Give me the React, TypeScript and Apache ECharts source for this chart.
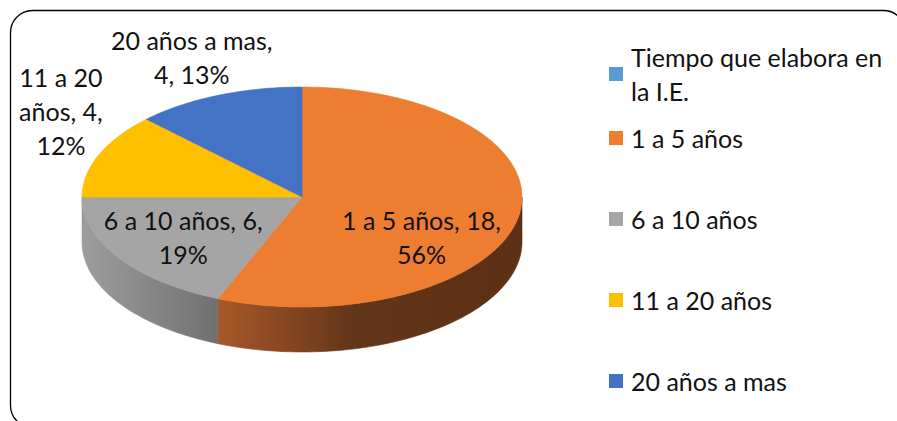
import React, { useEffect, useRef } from "react";
import * as echarts from "echarts";

// ---- data ----
const categories = [
  "Tiempo que elabora en la I.E.",
  "1 a 5 años",
  "6 a 10 años",
  "11 a 20 años",
  "20 años a mas",
];
const values = [0, 18, 6, 4, 4];
const percents = [0, 56, 19, 12, 13];

// ---- styles ----
const FONT = "Lato";
const FONT_SIZE = 25;
const topColors = ["#5B9BD5", "#ED7D31", "#A5A5A5", "#FFC000", "#4472C4"];
const wallStops: Array<Array<[number, string]>> = [
  [[0, "#3F6E98"], [1, "#2F5577"]],
  [[0, "#A85829"], [0.45, "#63351A"], [1, "#5C3015"]],
  [[0, "#9D9D9D"], [1, "#707070"]],
  [[0, "#B38700"], [1, "#8A6800"]],
  [[0, "#30508A"], [1, "#263F6E"]],
];
// label anchor: factor along the mid-angle radius, plus a pixel nudge, and wrap width
const labelLayout = [
  null,
  { k: 0.6, dx: -10, dy: 27, width: 175 },
  { k: 0.6, dx: -9, dy: 3, width: 175 },
  { k: 1.25, dx: 13, dy: -33, width: 105 },
  { k: 1.25, dx: -5, dy: -13, width: 175 },
];

const CX = 302;
const CY = 197;
const RX = 220;
const RY = 110;
const DEPTH = 45;

function pt(theta: number, dy = 0): number[] {
  return [CX + RX * Math.sin(theta), CY - RY * Math.cos(theta) + dy];
}
function arc(a: number, b: number, dy: number): number[][] {
  const n = Math.max(2, Math.ceil((b - a) / (Math.PI / 120)));
  const pts: number[][] = [];
  for (let j = 0; j <= n; j++) pts.push(pt(a + ((b - a) * j) / n, dy));
  return pts;
}

let measureCtx: CanvasRenderingContext2D | null = null;
function wrapWords(text: string, width: number): string {
  if (!measureCtx) measureCtx = document.createElement("canvas").getContext("2d");
  const ctx = measureCtx!;
  ctx.font = `${FONT_SIZE}px ${FONT}`;
  const words = text.split(" ");
  const lines: string[] = [];
  let cur = "";
  for (const w of words) {
    const cand = cur ? cur + " " + w : w;
    if (cur && ctx.measureText(cand).width > width) {
      lines.push(cur);
      cur = w;
    } else cur = cand;
  }
  if (cur) lines.push(cur);
  return lines.join("\n");
}

export default function App() {
  const ref = useRef<HTMLDivElement>(null);
  useEffect(() => {
    if (!ref.current) return;
    const chart = echarts.init(ref.current, undefined, { renderer: "svg" });
    const total = values.reduce((s, v) => s + v, 0);

    const renderItem = (params: any, api: any) => {
      const i = params.dataIndex;
      const v = api.value(0) as number;
      if (!v) return { type: "group", children: [] };
      let before = 0;
      for (let j = 0; j < i; j++) before += values[j];
      const a = (before / total) * Math.PI * 2;
      const b = ((before + v) / total) * Math.PI * 2;
      const children: any[] = [];
      const wa = Math.max(a, Math.PI / 2);
      const wb = Math.min(b, (Math.PI * 3) / 2);
      if (wb > wa) {
        const grad = new echarts.graphic.LinearGradient(
          0, 0, 1, 0,
          wallStops[i].map(([offset, color]) => ({ offset, color }))
        );
        children.push({
          type: "polygon",
          z2: 1,
          shape: { points: [...arc(wa, wb, 0), ...arc(wa, wb, DEPTH).reverse()] },
          style: { fill: grad, stroke: grad, lineWidth: 0.6 },
        });
      }
      children.push({
        type: "polygon",
        z2: 5,
        shape: { points: [[CX, CY], ...arc(a, b, 0)] },
        style: { fill: topColors[i], stroke: topColors[i], lineWidth: 0.6 },
      });
      const lay = labelLayout[i];
      if (lay) {
        const mid = (a + b) / 2;
        const p = [CX + RX * lay.k * Math.sin(mid), CY - RY * lay.k * Math.cos(mid)];
        children.push({
          type: "text",
          z2: 10,
          x: p[0] + lay.dx,
          y: p[1] + lay.dy,
          style: {
            text: wrapWords(`${categories[i]}, ${v}, ${percents[i]}%`, lay.width),
            fontFamily: FONT,
            fontSize: FONT_SIZE,
            lineHeight: 34,
            fill: "#111",
            align: "center",
            verticalAlign: "middle",
          },
        });
      }
      return { type: "group", children };
    };

    const legendBase = {
      orient: "vertical",
      left: 609,
      padding: 0,
      selectedMode: false,
      icon: "rect",
      itemWidth: 14,
      itemHeight: 14,
    };

    chart.setOption({
      animation: false,
      backgroundColor: "#ffffff",
      graphic: [
        {
          type: "rect",
          shape: { x: 10.5, y: 10.5, width: 895, height: 417, r: 22 },
          style: { fill: "none", stroke: "#000", lineWidth: 1.3 },
          z: 0,
        },
      ],
      legend: [
        {
          ...legendBase,
          top: 23,
          data: [categories[0]],
          textStyle: {
            fontFamily: FONT,
            fontSize: FONT_SIZE,
            lineHeight: 34,
            color: "#111",
            width: 258,
            overflow: "break",
            padding: [34, 0, 0, 3],
          },
        },
        {
          ...legendBase,
          top: 121,
          itemGap: 47,
          data: categories.slice(1),
          textStyle: {
            fontFamily: FONT,
            fontSize: FONT_SIZE,
            lineHeight: 34,
            color: "#111",
            padding: [0, 0, 0, 3],
          },
        },
      ],
      series: [
        {
          type: "custom",
          coordinateSystem: "none",
          renderItem,
          data: categories.map((c, i) => ({ name: c, value: [values[i]] })),
          silent: true,
        },
        {
          // carries the category colours for the legend only
          type: "pie",
          radius: [0, 0],
          center: [-50, -50],
          silent: true,
          label: { show: false },
          labelLine: { show: false },
          data: categories.map((c, i) => ({
            name: c,
            value: values[i],
            itemStyle: { color: topColors[i] },
          })),
        },
      ],
    });
    return () => chart.dispose();
  }, []);
  return (
    <div
      ref={ref}
      style={{ position: "fixed", left: 0, top: 0, width: 897, height: 421 }}
    />
  );
}
